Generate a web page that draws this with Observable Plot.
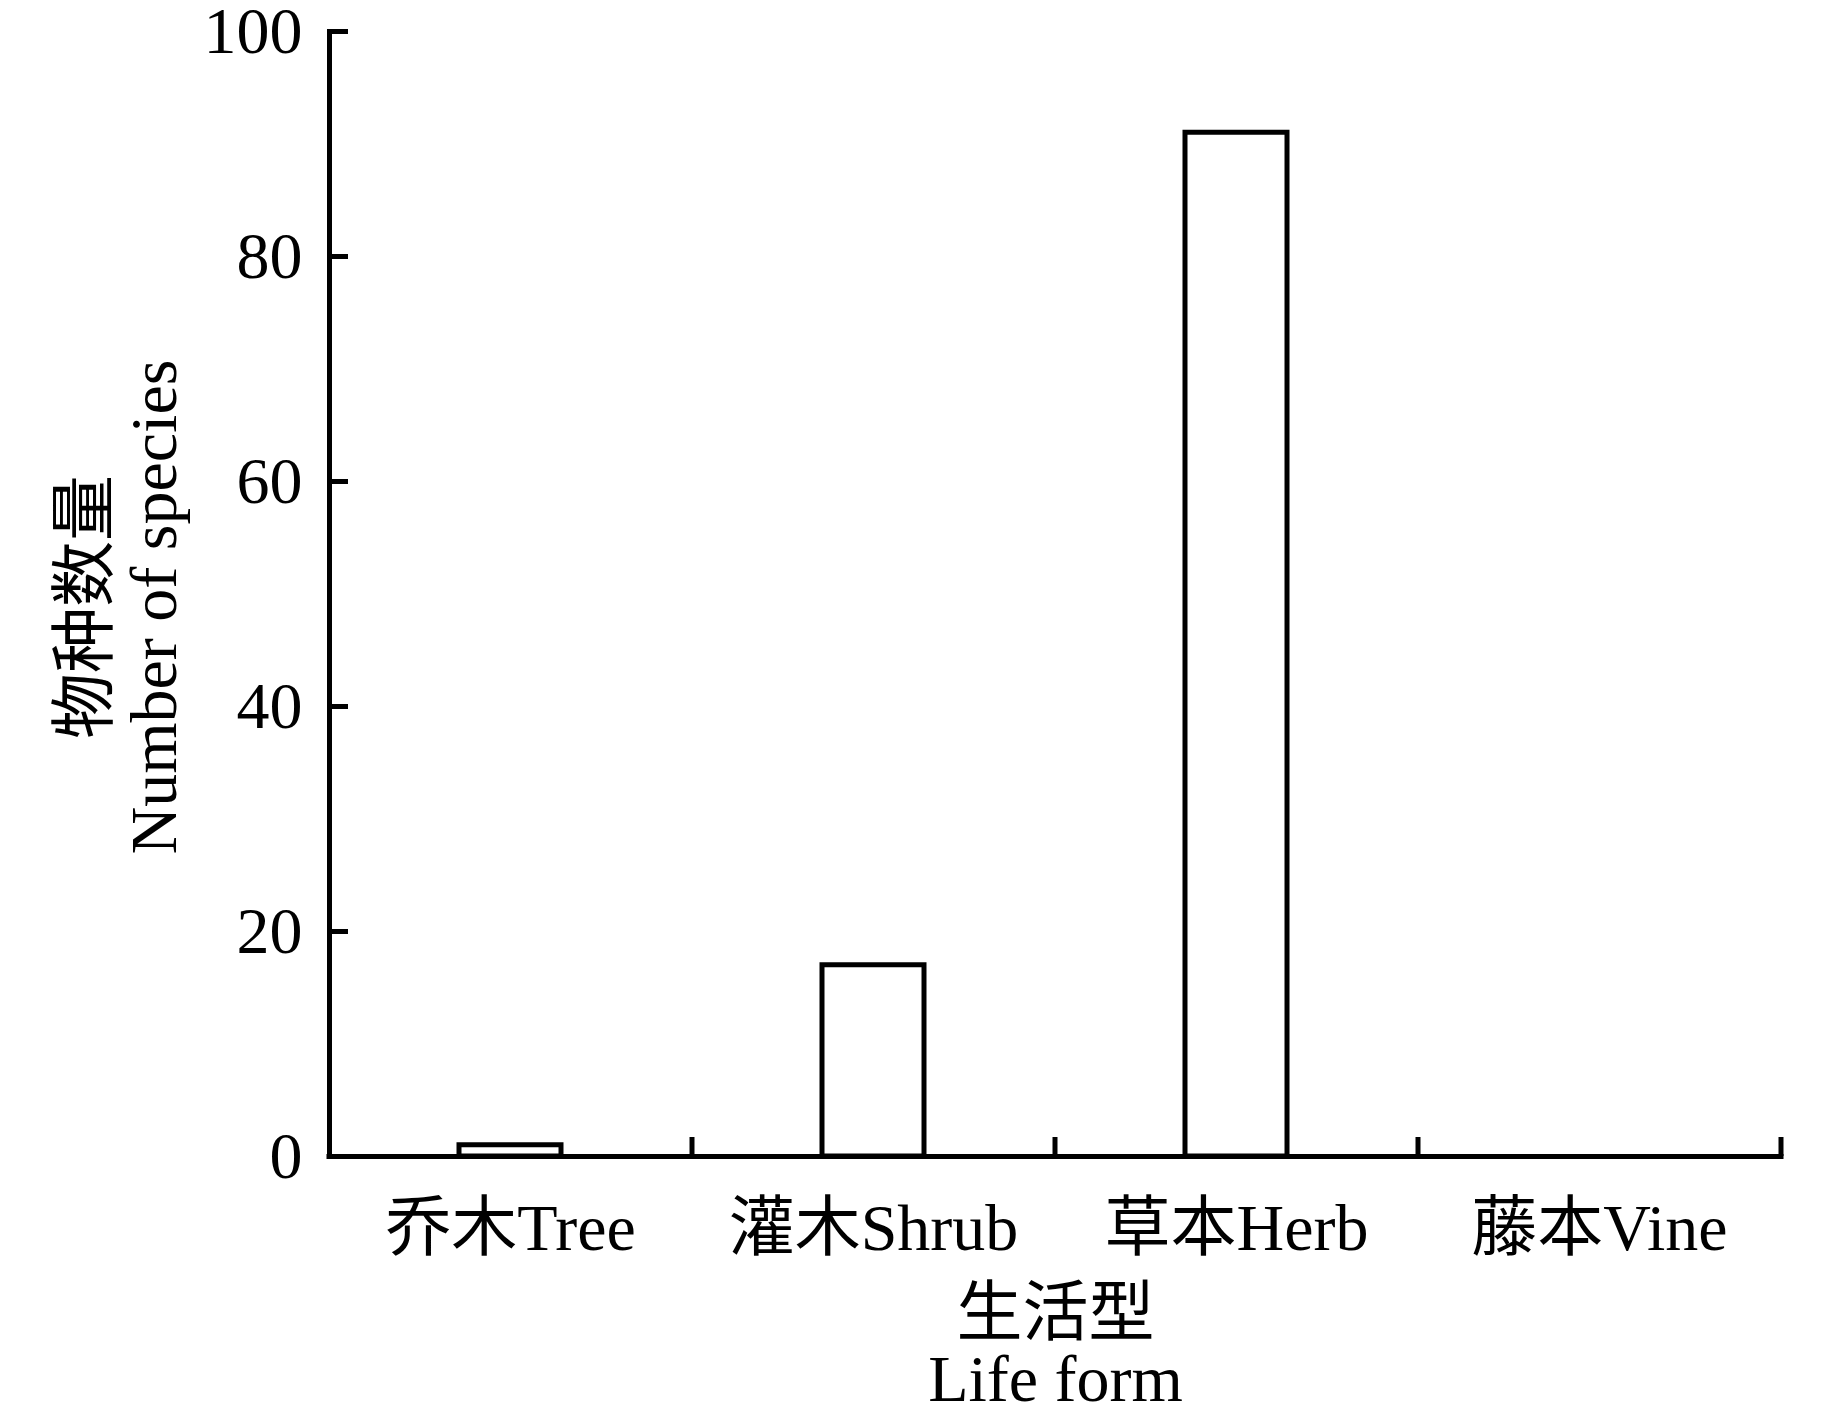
<!DOCTYPE html>
<html>
<head>
<meta charset="utf-8">
<script src="https://cdn.jsdelivr.net/npm/d3@7"></script>
<script src="https://cdn.jsdelivr.net/npm/@observablehq/plot@0.6"></script>
<style>
  html, body { margin: 0; padding: 0; background: #fff; overflow: hidden; }
</style>
</head>
<body>
<div id="chart"></div>
<script>
const categories = ["乔木Tree", "灌木Shrub", "草本Herb", "藤本Vine"];
const counts = [1, 17, 91, 0];
const yTicks = [0, 20, 40, 60, 80, 100];
const yTitle = ["物种数量", "Number of species"];
const xTitle = ["生活型", "Life form"];

const data = categories.map((c, i) => ({cat: c, count: counts[i]}));

const W = 1843, H = 1417;
const mL = 329, mR = 62, mT = 31, mB = 261;
const halfStep = (W - mL - mR) / categories.length / 2;
const font = '"Liberation Serif", "Times New Roman", "Noto Sans CJK SC", serif';

const chart = Plot.plot({
  width: W,
  height: H,
  marginLeft: mL,
  marginRight: mR,
  marginTop: mT,
  marginBottom: mB,
  style: {fontFamily: font, fontSize: "66px", color: "#000", background: "#fff"},
  x: {domain: categories, paddingInner: 0.719, paddingOuter: 0.3595, axis: null},
  y: {domain: [0, 100], axis: null},
  marks: [
    Plot.barY(data, {x: "cat", y: "count", fill: "white", stroke: "black", strokeWidth: 5}),
    Plot.ruleY([0], {stroke: "black", strokeWidth: 5, strokeLinecap: "square"}),
    Plot.frame({anchor: "left", stroke: "black", strokeWidth: 5, strokeLinecap: "square"}),
    Plot.axisY(yTicks, {tickSize: -19, tickPadding: 0, tickFormat: () => "", label: null, strokeWidth: 5, stroke: "black"}),
    Plot.axisY(yTicks, {tickSize: 0, tickPadding: 27, label: null, fontSize: 66, fill: "black"}),
    Plot.axisX(categories, {tickSize: -19, tickPadding: 0, dx: halfStep, tickFormat: () => "", label: null, strokeWidth: 5, stroke: "black"}),
    Plot.axisX(categories, {tickSize: 0, tickPadding: 47, label: null, fontSize: 66, fill: "black"}),
    Plot.text([yTitle.join("\n")], {text: d => d, frameAnchor: "left", textAnchor: "middle", rotate: -90, dx: -210, dy: 13, lineHeight: 1.05, fontSize: 66, fill: "black"}),
    Plot.text([xTitle.join("\n")], {text: d => d, frameAnchor: "bottom", textAnchor: "middle", lineAnchor: "top", dy: 132, lineHeight: 1, fontSize: 66, fill: "black"})
  ]
});

document.getElementById("chart").appendChild(chart);
</script>
</body>
</html>
